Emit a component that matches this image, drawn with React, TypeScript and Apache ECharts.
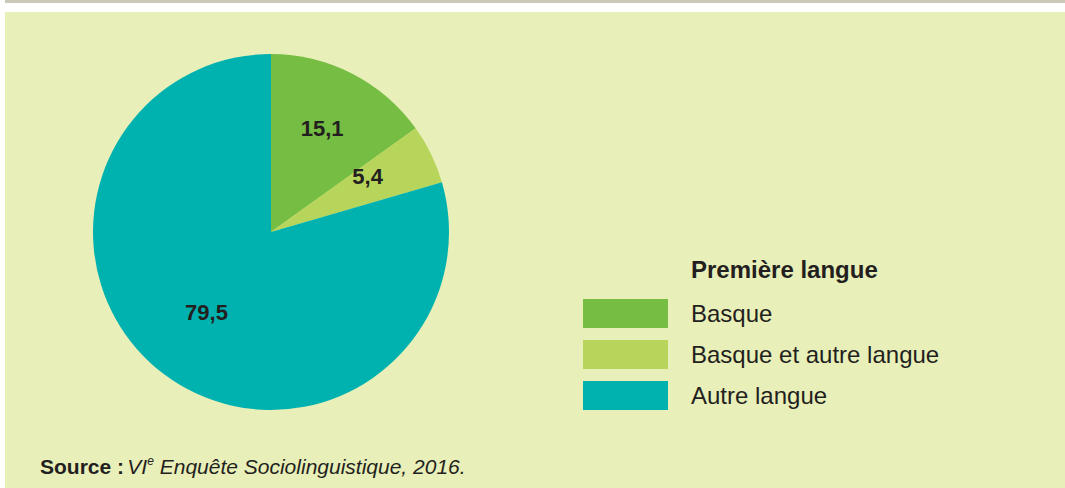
import React, { useEffect, useRef } from "react";
import * as echarts from "echarts";

const categories = ["Basque", "Basque et autre langue", "Autre langue"];
const values = [15.1, 5.4, 79.5];
const colors = ["#76bd43", "#b6d55a", "#00b2af"];
const legendTitle = "Première langue";

const TEXT = "#231f20";
const FONT = "'Liberation Sans', Arial, sans-serif";
const labelNudge = [[-1, -2], [-6, -6], [4, -11]];

export default function App() {
  const ref = useRef<HTMLDivElement>(null);
  useEffect(() => {
    document.body.style.margin = "0";
    const chart = echarts.init(ref.current!, null, { renderer: "svg" });
    const cx = 271;
    const cy = 232;
    const R = 178;
    chart.setOption({
      animation: false,
      backgroundColor: "#ffffff",
      textStyle: { fontFamily: FONT },
      graphic: [
        { type: "rect", z: -10, shape: { x: 5, y: 0, width: 1060, height: 3 }, style: { fill: "#cdc9ba" } },
        { type: "rect", z: -10, shape: { x: 5, y: 12, width: 1060, height: 476 }, style: { fill: "#e9efb8" } },
        {
          type: "text",
          left: 691,
          top: 257,
          style: { text: legendTitle, fontFamily: FONT, fontSize: 24, fontWeight: "bold", fill: TEXT },
        },
        {
          type: "text",
          left: 40,
          top: 455,
          style: {
            text: "{b|Source :} {i|VI}{s|e}{i| Enquête Sociolinguistique, 2016.}",
            fontFamily: FONT,
            fill: TEXT,
            rich: {
              b: { fontFamily: FONT, fontSize: 21, fontWeight: "bold", fill: TEXT },
              i: { fontFamily: FONT, fontSize: 21, fontStyle: "italic", fill: TEXT },
              s: { fontFamily: FONT, fontSize: 12, fontStyle: "italic", fill: TEXT, padding: [0, 0, 10, 0] },
            },
          },
        },
      ],
      legend: {
        orient: "vertical",
        left: 583,
        top: 299,
        padding: 0,
        itemWidth: 85,
        itemHeight: 29,
        itemGap: 12,
        icon: "rect",
        data: categories,
        textStyle: { fontFamily: FONT, fontSize: 24, color: TEXT, padding: [0, 0, 0, 18] },
        selectedMode: false,
      },
      series: [
        {
          type: "pie",
          center: [cx, cy],
          radius: [0, R],
          startAngle: 90,
          clockwise: true,
          silent: true,
          itemStyle: { borderWidth: 0 },
          label: {
            show: true,
            position: "inside",
            fontFamily: FONT,
            fontSize: 22,
            fontWeight: "bold",
            color: TEXT,
            formatter: (p: any) => String(p.value).replace(".", ","),
          },
          labelLayout: (p: any) => {
            const lx = p.labelRect.x + p.labelRect.width / 2;
            const ly = p.labelRect.y + p.labelRect.height / 2;
            const k = 1.24;
            const n = labelNudge[p.dataIndex] || [0, 0];
            return { x: cx + (lx - cx) * k + n[0], y: cy + (ly - cy) * k + n[1] };
          },
          labelLine: { show: false },
          data: categories.map((c, i) => ({ name: c, value: values[i], itemStyle: { color: colors[i] } })),
        },
      ],
    });
    return () => chart.dispose();
  }, []);
  return <div ref={ref} style={{ width: 1065, height: 488 }} />;
}
